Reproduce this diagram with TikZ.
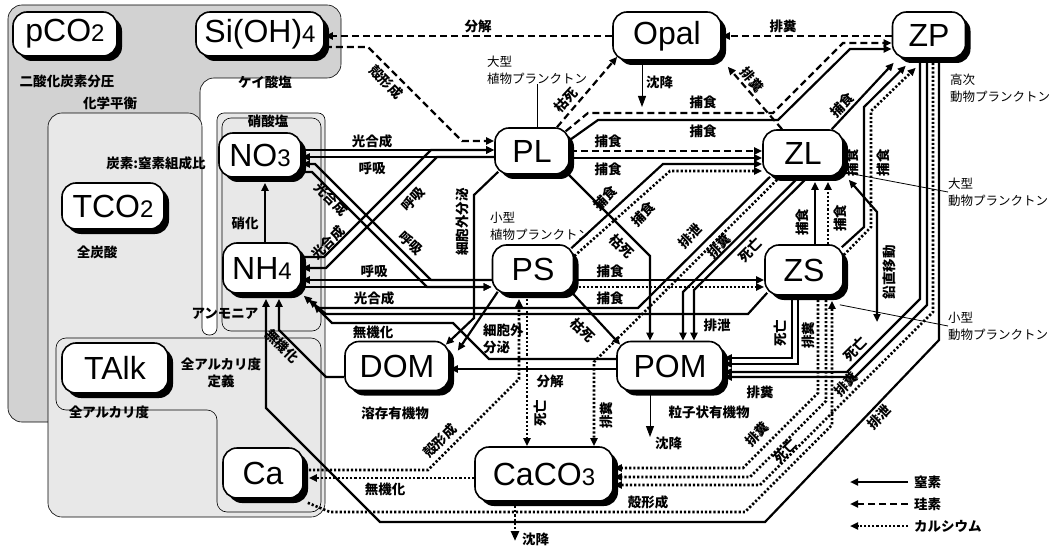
\documentclass[tikz,border=0pt]{standalone}
\usepackage{fontspec}
\setmainfont{Liberation Sans}
\newfontfamily\jp{Noto Sans CJK JP}
\usepackage{tikz}
\usetikzlibrary{arrows.meta,shadows,calc}
\pgfdeclarelayer{zones}
\pgfdeclarelayer{flows}
\pgfsetlayers{zones,main,flows}
\newcommand{\dg}[1]{{\fontsize{24}{24}\selectfont #1}}

\begin{document}
\begin{tikzpicture}[x=1pt, y=-1pt, >={Triangle[length=8pt,width=7pt]},
  box/.style={draw, line width=1.6pt, fill=white, rounded corners=14pt, inner sep=0pt,
    font=\fontsize{32}{32}\selectfont,
    drop shadow={shadow xshift=5pt, shadow yshift=-5pt, opacity=1, fill=black}},
  lab/.style={font=\jp\bfseries\fontsize{13.5}{17}\selectfont, inner sep=0pt},
  note/.style={font=\jp\fontsize{12.5}{17}\selectfont, inner sep=0pt, align=left},
  nit/.style={line width=2.2pt},
  sil/.style={line width=2.2pt, dash pattern=on 7pt off 4pt},
  cal/.style={line width=2.6pt, dash pattern=on 2.2pt off 2pt},
  lead/.style={line width=0.8pt},
  sink/.style={line width=0.9pt, -{Triangle[length=11pt,width=8pt]}}]
  \useasboundingbox (0,0) rectangle (1059,548);

  % shaded zones behind the compartments
  \begin{pgfonlayer}{zones}
    \fill[white] (0,0) rectangle (1059,548);
    \filldraw[fill=gray!35, line width=0.6pt, rounded corners=14pt]
      (8,200) -- (8,5) -- (341,5) -- (341,78) -- (200,78) -- (200,422) -- (8,422) -- cycle;
    \filldraw[fill=gray!18, line width=0.6pt]
      (48,300) [rounded corners=14pt] -- (48,113) -- (202,113) [rounded corners=7pt] -- (202,335)
      -- (217,335) -- (217,113) -- (325,113) [rounded corners=14pt] -- (325,517) -- (48,517) -- cycle;
    \draw[line width=0.6pt, rounded corners=9pt] (222,118) rectangle (321,331);
    \draw[line width=0.6pt, rounded corners=10pt]
      (150,338) -- (321,338) -- (321,512) -- (217,512) -- (217,410) -- (56,410) -- (56,338) -- cycle;
  \end{pgfonlayer}

  % compartments
  \node[box, minimum width=104pt, minimum height=44pt] (pCO2) at (65,34) {pCO\dg{2}};
  \node[box, minimum width=128pt, minimum height=44pt] (SiOH4) at (260,34) {Si(OH)\dg{4}};
  \node[box, minimum width=108pt, minimum height=48pt] (Opal) at (667,36) {Opal};
  \node[box, minimum width=73pt, minimum height=46pt] (ZP) at (929,35) {ZP};
  \node[box, minimum width=82pt, minimum height=44pt] (NO3) at (260,155) {NO\dg{3}};
  \node[box, minimum width=74pt, minimum height=46pt] (PL) at (532,151) {PL};
  \node[box, minimum width=80pt, minimum height=46pt] (ZL) at (803,153) {ZL};
  \node[box, minimum width=102pt, minimum height=46pt] (TCO2) at (113,206) {TCO\dg{2}};
  \node[box, minimum width=78pt, minimum height=50pt] (NH4) at (262,268) {NH\dg{4}};
  \node[box, minimum width=81pt, minimum height=48pt] (PS) at (533,269) {PS};
  \node[box, minimum width=78pt, minimum height=50pt] (ZS) at (804,270) {ZS};
  \node[box, minimum width=106pt, minimum height=50pt] (TAlk) at (115,368) {TAlk};
  \node[box, minimum width=104pt, minimum height=49pt] (DOM) at (397,366) {DOM};
  \node[box, minimum width=106pt, minimum height=49pt] (POM) at (670,366) {POM};
  \node[box, minimum width=80pt, minimum height=50pt] (Ca) at (263,473) {Ca};
  \node[box, minimum width=138pt, minimum height=54pt] (CaCO3) at (544,474) {CaCO\dg{3}};

  % zone and compartment names
  \node[lab] (tPco) at (67,81) {二酸化炭素分圧};
  \node[lab] (tSil) at (265,82) {ケイ酸塩};
  \node[lab] (tEq) at (110,103) {化学平衡};
  \node[lab] (tCN) at (156,163) {炭素:窒素組成比};
  \node[lab] (tNit) at (268,121) {硝酸塩};
  \node[lab] (tTco) at (97,252) {全炭酸};
  \node[lab] (tAmm) at (225,314) {アンモニア};
  \node[lab, align=center] (tDef) at (221,373) {全アルカリ度\\定義};
  \node[lab] (tAlk) at (109,412) {全アルカリ度};
  \node[lab] (tDom) at (395,413) {溶存有機物};
  \node[lab] (tPom) at (709,412) {粒子状有機物};
  \node[note, anchor=west] (tPL) at (487,70) {大型\\植物プランクトン};
  \node[note, anchor=west] (tPS) at (490,226) {小型\\植物プランクトン};
  \node[note, anchor=west] (tZP) at (950,88) {高次\\動物プランクトン};
  \node[note, anchor=west] (tZL) at (948,192) {大型\\動物プランクトン};
  \node[note, anchor=west] (tZS) at (948,326) {小型\\動物プランクトン};

  % flow labels
  \node[lab] (w01) at (478,26) {分解};
  \node[lab, rotate=-45] (w02) at (386,82) {殻形成};
  \node[lab, rotate=47] (w03) at (566,100) {枯死};
  \node[lab, anchor=west] (w04) at (646,82) {沈降};
  \node[lab] (w05) at (783,26) {排糞};
  \node[lab, rotate=-50] (w06) at (752,80) {排糞};
  \node[lab] (w07) at (703,102) {捕食};
  \node[lab] (w08) at (703,131) {捕食};
  \node[lab] (w09) at (608,141) {捕食};
  \node[lab] (w10) at (608,169) {捕食};
  \node[lab, rotate=45] (w11) at (605,198) {捕食};
  \node[lab, rotate=45] (w12) at (643,214) {捕食};
  \node[lab] (w13) at (372,141) {光合成};
  \node[lab] (w14) at (372,168) {呼吸};
  \node[lab, rotate=-45] (w15) at (331,199) {光合成};
  \node[lab, rotate=45] (w16) at (328,243) {光合成};
  \node[lab, rotate=45] (w17) at (413,199) {呼吸};
  \node[lab, rotate=-45] (w18) at (411,243) {呼吸};
  \node[lab] (w19) at (374,271) {呼吸};
  \node[lab] (w20) at (374,298) {光合成};
  \node[lab] (w21) at (245,223) {硝化};
  \node[lab, rotate=90] (w22) at (462,222) {細胞外分泌};
  \node[lab] (w23) at (610,271) {捕食};
  \node[lab] (w24) at (610,298) {捕食};
  \node[lab, rotate=-45] (w25) at (622,246) {枯死};
  \node[lab, rotate=-45] (w26) at (583,330) {枯死};
  \node[lab, align=left, anchor=west] (w27) at (483,339) {細胞外\\分泌};
  \node[lab, rotate=45] (w28) at (690,236) {排泄};
  \node[lab, rotate=45] (w29) at (719,246) {排糞};
  \node[lab, rotate=45] (w30) at (750,250) {死亡};
  \node[lab, rotate=45] (w31) at (842,105) {捕食};
  \node[lab, rotate=90] (w32) at (852,163) {捕食};
  \node[lab, rotate=90] (w33) at (883,163) {捕食};
  \node[lab, rotate=90] (w34) at (802,222) {捕食};
  \node[lab, rotate=90] (w35) at (840,218) {捕食};
  \node[lab, rotate=90] (w36) at (889,272) {鉛直移動};
  \node[lab] (w37) at (717,325) {排泄};
  \node[lab, rotate=90] (w38) at (780,333) {死亡};
  \node[lab, rotate=90] (w39) at (808,335) {排糞};
  \node[lab, rotate=45] (w40) at (855,349) {死亡};
  \node[lab] (w41) at (760,392) {排糞};
  \node[lab] (w42) at (550,381) {分解};
  \node[lab] (w43) at (373,332) {無機化};
  \node[lab, rotate=-45] (w44) at (282,346) {無機化};
  \node[lab, anchor=west] (w45) at (655,443) {沈降};
  \node[lab, rotate=90] (w46) at (540,413) {死亡};
  \node[lab, rotate=90] (w47) at (606,415) {排糞};
  \node[lab, rotate=45] (w48) at (440,441) {殻形成};
  \node[lab] (w49) at (385,489) {無機化};
  \node[lab] (w50) at (648,502) {殻形成};
  \node[lab, anchor=west] (w51) at (522,539) {沈降};
  \node[lab, rotate=45] (w52) at (757,434) {排糞};
  \node[lab, rotate=45] (w53) at (785,451) {死亡};
  \node[lab, rotate=45] (w54) at (846,384) {排糞};
  \node[lab, rotate=45] (w55) at (879,417) {排泄};

  % free ends
  \coordinate (sinkOpal) at (642,107);
  \coordinate (sinkPOM) at (650,437);
  \coordinate (sinkCa) at (515,541);
  \coordinate (vmig) at (877,322);

  \begin{pgfonlayer}{flows}
    % silicon
    \draw[sil,->] (Opal.west |- 0,36) -- (SiOH4.east |- 0,36);
    \draw[sil,->] (SiOH4.east |- 0,47) -- (368,47) -- (462,141) -- (PL.west |- 0,141);
    \draw[sil,->] (557,0 |- PL.north) -- ($(Opal.south west)+(5,-4)$);
    \draw[sil,->] (ZP.west |- 0,36) -- (Opal.east |- 0,36);
    \draw[sil,->] (782,0 |- ZL.north) -- ($(Opal.south east)+(6,6)$);
    \draw[sil,->] ($(PL.north east)+(-4,4)$) -- (588,113) -- (773,113) -- (843,43) -- (ZP.west |- 0,43);
    \draw[sil,->] (PL.east |- 0,151) -- (ZL.west |- 0,151);
    \draw[sink] (642,0 |- Opal.south) -- (sinkOpal);

    % nutrients <-> phytoplankton
    \draw[nit,->] (NO3.east |- 0,150) -- (PL.west |- 0,150);
    \draw[nit,->] (PL.west |- 0,157) -- (NO3.east |- 0,157);
    \draw[nit,->] (NH4.east |- 0,257) -- (324,257) -- (431,150) -- (PL.west |- 0,150);
    \draw[nit,->] (PL.west |- 0,157) -- (437,157) -- (326,268) -- (NH4.east |- 0,268);
    \draw[nit,->] (NO3.east |- 0,172) -- (312,172) -- (427,287) -- (PS.west |- 0,287);
    \draw[nit,->] (PS.west |- 0,280) -- (431,280) -- (315,164) -- (NO3.east |- 0,164);
    \draw[nit,->] (PS.west |- 0,280) -- (NH4.east |- 0,280);
    \draw[nit,->] (NH4.east |- 0,287) -- (PS.west |- 0,287);
    \draw[nit,->] (265,0 |- NH4.north) -- ($(265,0 |- NO3.south)+(0,5)$);

    % grazing
    \draw[nit,->] (PL.east |- 0,158) -- (ZL.west |- 0,158);
    \draw[nit,->] (PL.east |- 0,140) -- (598,120) -- (778,120) -- (850,49) -- (ZP.west |- 0,49);
    \draw[nit,->] ($(PS.north east)+(-3,4)$) -- (663,164) -- (ZL.west |- 0,164);
    \draw[cal,->] (PS.east |- 0,256) -- (670,171) -- (ZL.west |- 0,171);
    \draw[nit,->] (PS.east |- 0,280) -- (ZS.west |- 0,280);
    \draw[cal,->] (PS.east |- 0,287) -- (ZS.west |- 0,287);
    \draw[nit,->] (815,0 |- ZS.north) -- ($(815,0 |- ZL.south)+(0,5)$);
    \draw[cal,->] (828,0 |- ZS.north) -- ($(828,0 |- ZL.south)+(0,5)$);
    \draw[nit,->] ($(ZL.north east)+(-12,0)$) -- ($(ZP.south west)+(2,4)$);
    \draw[nit,->] ($(ZS.north east)+(-2,3)$) -- (864,227) -- (864,107) -- ($(ZP.south west)+(14,7)$);
    \draw[cal,->] (ZS.east |- 0,255) -- (871,227) -- (871,111) -- ($(ZP.south west)+(24,9)$);
    \draw[nit,<->] ($(ZL.south east)+(5,3)$) -- (877,212) -- (vmig);

    % excretion, egestion, mortality
    \draw[nit,->] (770,0 |- ZL.south) -- (638,308) -- (318,308) -- ($(NH4.south east)+(2,2)$);
    \draw[cal,->] (780,0 |- ZL.south) -- (594,362) -- (594,0 |- CaCO3.north);
    \draw[nit,->] (799,0 |- ZL.south) -- (683,292) -- (683,0 |- POM.north);
    \draw[nit,->] (808,0 |- ZL.south) -- (694,290) -- (694,0 |- POM.north);
    \draw[nit,->] ($(ZS.south west)+(3,-3)$) -- (748,314) -- (326,314) -- ($(NH4.south east)+(7,6)$);
    \draw[nit,->] (792,0 |- ZS.south) -- (792,358) -- (POM.east |- 0,358);
    \draw[nit,->] (798,0 |- ZS.south) -- (798,364) -- (POM.east |- 0,364);
    \draw[nit,->] (920,0 |- ZP.south) -- (920,299) -- (847,372) -- (POM.east |- 0,372);
    \draw[nit,->] (927,0 |- ZP.south) -- (927,305) -- (855,377) -- (POM.east |- 0,377);
    \draw[nit,->] (939,0 |- ZP.south) -- (939,340) -- (765,522) -- (380,522) -- (266,408)
      -- ($(266,0 |- NH4.south)+(0,5)$);

    % detritus
    \draw[nit,->] ($(PL.south east)+(-4,-3)$) -- (650,256) -- (650,0 |- POM.north);
    \draw[nit,->] ($(PS.south east)+(-4,-3)$) -- ($(POM.north west)+(4,4)$);
    \draw[nit,->] ($(PL.south west)+(4,-3)$) -- (474,195) -- (474,318) -- ($(DOM.north east)+(-4,4)$);
    \draw[nit,->] ($(PS.south west)+(6,-2)$) -- ($(DOM.north east)+(8,10)$);
    \draw[nit,->] (POM.west |- 0,369) -- (DOM.east |- 0,369);
    \draw[nit,->] (POM.west |- 0,359) -- (489,359) -- (453,323) -- (332,323) -- ($(NH4.south east)+(12,11)$);
    \draw[nit,->] (DOM.west |- 0,377) -- (326,377) -- (279,330) -- ($(279,0 |- NH4.south)+(0,5)$);
    \draw[sink] (650,0 |- POM.south) -- (sinkPOM);

    % calcium
    \draw[cal,->] (CaCO3.west |- 0,478) -- ($(Ca.east |- 0,478)+(5,0)$);
    \draw[cal,->] ($(Ca.east |- 0,470)+(5,0)$) -- (428,470) -- (519,379) -- ($(519,0 |- PS.south)+(0,5)$);
    \draw[cal,->] ($(527,0 |- PS.south)+(0,5)$) -- (527,0 |- CaCO3.north);
    \draw[cal,->] ($(Ca.south east)+(4,4)$) -- (330,512) -- (745,512) -- (832,425) -- ($(832,0 |- ZS.south)+(0,5)$);
    \draw[cal,->] (818,0 |- ZS.south) -- (818,393) -- (743,468) -- (CaCO3.east |- 0,468);
    \draw[cal,->] (826,0 |- ZS.south) -- (826,401) -- (750,477) -- (CaCO3.east |- 0,477);
    \draw[cal,->] (933,0 |- ZP.south) -- (933,312) -- (760,485) -- (CaCO3.east |- 0,485);
    \draw[cal,-{Triangle[length=10pt,width=8pt]}] (515,0 |- CaCO3.south) -- (sinkCa);

    % leaders
    \draw[lead] (537,0 |- tPL.south) -- (537,0 |- PL.north);
    \draw[lead] ($(ZL.south east)+(3,-4)$) -- (tZL.west);
    \draw[lead] ($(ZS.south east)+(-4,9)$) -- (tZS.west);
  \end{pgfonlayer}

  % legend
  \coordinate (lgN0) at (908,482); \coordinate (lgN1) at (850,482);
  \coordinate (lgS0) at (908,504); \coordinate (lgS1) at (850,504);
  \coordinate (lgC0) at (908,526); \coordinate (lgC1) at (850,526);
  \draw[nit,->] (lgN0) -- (lgN1);
  \draw[sil,->] (lgS0) -- (lgS1);
  \draw[cal,->] (lgC0) -- (lgC1);
  \node[lab, anchor=west] (lgNt) at (914,482) {窒素};
  \node[lab, anchor=west] (lgSt) at (914,504) {珪素};
  \node[lab, anchor=west] (lgCt) at (914,526) {カルシウム};
\end{tikzpicture}
\end{document}
